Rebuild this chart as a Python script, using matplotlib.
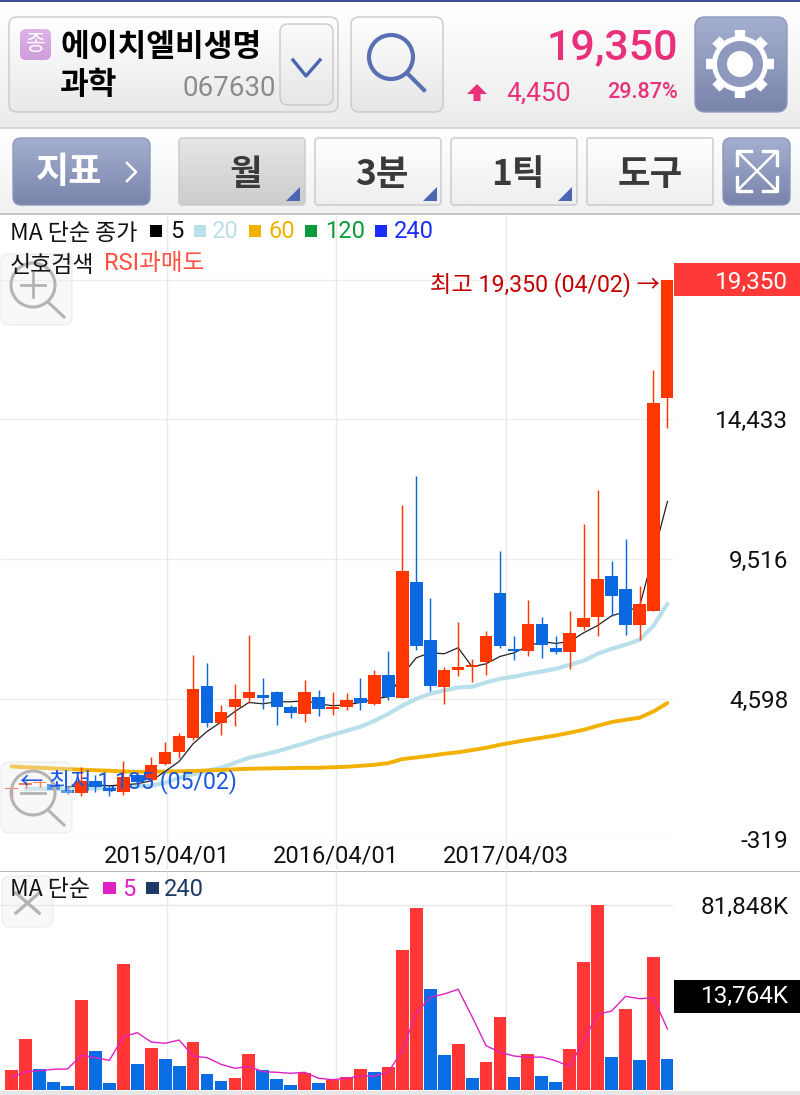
"""
Monthly candle chart screen for 에이치엘비생명과학 (067630) with price MAs and a volume pane.
"""

import numpy as np
import matplotlib
matplotlib.use("Agg")
import matplotlib.pyplot as plt
from matplotlib.patches import FancyBboxPatch, Rectangle, Circle, Polygon
from matplotlib.colors import LinearSegmentedColormap

plt.rcParams['font.family'] = ['Roboto', 'Noto Sans CJK KR', 'DejaVu Sans']

# ---- price pane data (won, monthly bars)
opens = [1410, 1580, 1630, 1607, 1396, 1290, 1713, 1466, 1326, 1924, 1748, 2311, 2733, 3201, 5056, 3729,
         4317, 4633, 4714, 4845, 4317, 4070, 4669, 4246, 4292, 4609, 4422, 5418, 4633, 8691, 6674, 4996,
         5619, 5700, 5876, 8328, 6358, 6287, 7237, 6368, 6252, 7132, 7484, 8927, 8444, 7202, 7695, 15166]
closes = [1450, 1620, 1660, 1396, 1266, 1713, 1477, 1361, 1853, 1677, 2276, 2733, 3296, 4950, 3754, 4116,
          4598, 4820, 4623, 4317, 4106, 4820, 4246, 4317, 4552, 4447, 5443, 4669, 9103, 6463, 5056, 5619,
          5724, 5770, 6815, 6467, 6263, 7237, 6474, 6227, 6921, 7424, 8821, 8223, 7202, 7941, 15014, 19350]
highs = [1642, 1713, 1720, 1677, 1512, 2205, 1924, 1572, 2416, 1994, 2557, 3085, 3402, 6147, 5865, 4387,
         5126, 6850, 5337, 4880, 4387, 5267, 4915, 4845, 4809, 5337, 5619, 6287, 11425, 12421, 8152, 5700,
         7283, 6006, 6991, 9806, 6815, 8082, 7484, 6791, 7699, 10756, 11953, 9454, 10229, 8550, 16151, 19350]
lows = [1150, 1466, 1510, 1361, 1255, 1185, 1326, 1185, 1220, 1607, 1677, 2276, 2522, 3155, 3613, 3331,
        3648, 4457, 4246, 3683, 3930, 3789, 4000, 4035, 4211, 4211, 4362, 4563, 4609, 6298, 4880, 4422,
        5408, 5172, 5443, 6393, 5971, 6111, 6016, 6182, 5654, 7002, 6815, 7494, 6826, 6674, 7695, 14110]

ma5_start = 4
ma5 = [1501, 1537, 1572, 1537, 1572, 1607, 1713, 2040, 2392, 3015, 3447, 3778, 4151, 4468, 4422, 4493,
       4493, 4528, 4422, 4352, 4387, 4468, 4598, 4669, 5443, 6041, 6217, 6182, 6393, 5724, 5830, 6087,
       6217, 6439, 6615, 6544, 6615, 6921, 7178, 7519, 7660, 7846, 9666, 11541]
ma20_start = 1
ma20 = [1431, 1431, 1431, 1431, 1431, 1449, 1466, 1502, 1519, 1537, 1642, 1818, 1941, 2065, 2170, 2346,
        2522, 2628, 2744, 2891, 3032, 3191, 3331, 3472, 3613, 3824, 4070, 4352, 4598, 4774, 4890, 4996,
        5020, 5172, 5302, 5372, 5478, 5559, 5654, 5795, 5935, 6182, 6358, 6498, 6674, 7167, 7941]
ma60 = [2216, 2188, 2170, 2145, 2124, 2100, 2082, 2065, 2040, 2029, 2029, 2040, 2047, 2054, 2075, 2089,
        2117, 2135, 2145, 2152, 2159, 2170, 2170, 2188, 2205, 2240, 2276, 2335, 2476, 2533, 2592, 2663,
        2716, 2793, 2874, 2979, 3067, 3155, 3226, 3307, 3402, 3507, 3648, 3778, 3859, 3930, 4151, 4447]

price_ticks = [19350, 14433, 9516, 4598, -319]
price_tick_labels = ["19,350", "14,433", "9,516", "4,598", "-319"]
date_ticks = [11.13, 23.25, 35.45]
date_labels = ["2015/04/01", "2016/04/01", "2017/04/03"]

# ---- volume pane data (thousand shares)
volume = [8848, 22430, 9290, 3672, 1770, 39683, 17121, 3230, 55742, 11502, 18581, 13714, 10618, 21235,
          6946, 3849, 5309, 15794, 8848, 4734, 2212, 7521, 3097, 4557, 5618, 9158, 7963, 10308, 61803,
          80384, 44550, 15484, 20350, 5176, 12520, 32162, 5884, 16059, 6326, 3406, 18271, 56494, 81848,
          14466, 35834, 13272, 58706, 13764]
vol_up = [1, 1, 0, 0, 0, 1, 0, 0, 1, 0, 1, 0, 0, 1, 0, 0, 1, 1, 0, 0, 0, 1, 0, 1,
          1, 1, 0, 1, 1, 1, 0, 0, 1, 0, 1, 1, 0, 1, 0, 0, 1, 1, 1, 0, 1, 0, 1, 0]
vol_ma5 = [5618, 8096, 8538, 9158, 9290, 15351, 14290, 13139, 23580, 25350, 21235, 20660, 22120, 15042,
           14290, 11370, 9600, 10485, 8096, 7830, 7388, 7830, 5176, 4557, 5176, 6194, 6194, 7830, 17696,
           33932, 41010, 42470, 44550, 32428, 19598, 16678, 15042, 14466, 14600, 12962, 10308, 22120,
           33490, 34950, 41453, 40391, 40834, 26986]

W, H = 800, 1095
CANDLE_RED = "#ff3600"
CANDLE_BLUE = "#0a69e0"
VOL_RED = "#ff3636"
VOL_BLUE = "#0a6de4"
KOR = ['Noto Sans CJK KR', 'Roboto', 'DejaVu Sans']


def px_axes(left, top, right, bottom):
    return fig.add_axes([left / W, 1 - bottom / H, (right - left) / W, (bottom - top) / H])


def grad_box(ax, x0, y0, x1, y1, top, bottom, edge="#c9c9c9", r=8, lw=1.0, z=2):
    # rounded button with a vertical gradient
    box = FancyBboxPatch((x0 + r, y0 + r), x1 - x0 - 2 * r, y1 - y0 - 2 * r,
                         boxstyle=f"round,pad={r},rounding_size={r}",
                         fc="none", ec=edge, lw=lw, zorder=z + 0.1)
    ax.add_patch(box)
    cmap = LinearSegmentedColormap.from_list("g", [top, bottom])
    im = ax.imshow(np.linspace(0, 1, 64)[:, None], cmap=cmap, extent=(x0, x1, y1, y0),
                   aspect="auto", zorder=z, interpolation="bilinear")
    im.set_clip_path(box)


def triangle(ax, x1, y1):
    ax.add_patch(Polygon([(x1, y1), (x1, y1 - 14), (x1 - 14, y1)], fc="#4a66b0", ec="none", zorder=4))


def magnifier(ax, x, y, sign):
    gray = "#b4b4b4"
    ax.add_patch(FancyBboxPatch((8, y - 24), 57, 57, boxstyle="round,pad=7,rounding_size=8",
                                fc="#eeeeee", ec="#d8d8d8", lw=1, alpha=0.38, zorder=3))
    ax.add_patch(Circle((x, y), 22, fc="none", ec=gray, lw=2.2, zorder=3.2))
    ax.plot([x + 15, x + 31], [y + 17, y + 32], color=gray, lw=2.2, zorder=3.2)
    ax.plot([x - 12, x + 12], [y, y], color=gray, lw=2, zorder=3.2)
    if sign == "+":
        ax.plot([x, x], [y - 12, y + 12], color=gray, lw=2, zorder=3.2)


fig = plt.figure(figsize=(W / 100, H / 100), dpi=100, facecolor="white")

# ---- background layer: header, toolbar, price flags
bg = px_axes(0, 0, W, H)
bg.set_axis_off()
bg.set_autoscale_on(False)
bg.set_xlim(0, W)
bg.set_ylim(H, 0)
for (t, b, c0, c1) in [(3, 127, "#ffffff", "#ececec"), (129, 213, "#ffffff", "#f1f1f1")]:
    bg.imshow(np.linspace(0, 1, 64)[:, None], extent=(0, W, b, t), aspect="auto",
              cmap=LinearSegmentedColormap.from_list("h", [c0, c1]), zorder=0)
bg.add_patch(Rectangle((0, 0), W, 2, fc="#3f5190", ec="none", zorder=1))
bg.add_patch(Rectangle((0, 127), W, 1.5, fc="#d6d6d6", ec="none", zorder=1))
bg.add_patch(Rectangle((0, 213), W, 1.5, fc="#c4c4c4", ec="none", zorder=1))
bg.add_patch(Rectangle((0, 870.5), W, 1.5, fc="#b8b8b8", ec="none", zorder=1))
bg.add_patch(Rectangle((0, 1090.5), W, 5, fc="#e6e6e6", ec="none", zorder=1))
bg.add_patch(Rectangle((674, 262.5), 126, 33, fc="#ff3838", ec="none", zorder=1))
bg.add_patch(Rectangle((674, 980), 126, 33, fc="black", ec="none", zorder=1))

# name box
grad_box(bg, 9, 17, 338, 112, "#ffffff", "#e9e9e9")
grad_box(bg, 20, 29, 51, 60, "#dcb4e6", "#cf9cdc", edge="none", r=6)
bg.text(35.5, 44, "종", color="white", fontsize=15.5, ha="center", va="center", family=KOR, zorder=5)
bg.text(60, 47, "에이치엘비생명", fontsize=22.5, weight="bold", va="center", family=KOR, zorder=5)
bg.text(60, 85, "과학", fontsize=22.5, weight="bold", va="center", family=KOR, zorder=5)
bg.text(276, 88, "067630", fontsize=20, color="#8c8c8c", ha="right", va="center", zorder=5)
grad_box(bg, 280, 24, 333, 105, "#fafafa", "#e7e7e7")
bg.plot([293, 306, 320], [60, 76, 60], color="#4a66b0", lw=2.4, zorder=5)

# search button
grad_box(bg, 351, 17, 443, 112, "#ffffff", "#e6e6e6")
bg.add_patch(Circle((391, 57), 22, fc="none", ec="#5a70b4", lw=3, zorder=5))
bg.plot([407, 424], [73, 90], color="#5a70b4", lw=3, zorder=5)

# price header
PINK = "#e8317a"
bg.text(678, 48, "19,350", fontsize=31, color=PINK, ha="right", va="center", weight="medium", zorder=5)
bg.add_patch(Polygon([(477, 84), (487, 94), (480.5, 94), (480.5, 101), (473.5, 101), (473.5, 94), (467, 94)],
                     fc=PINK, ec="none", zorder=5))
bg.text(571, 93, "4,450", fontsize=19, color=PINK, ha="right", va="center", zorder=5)
bg.text(678, 93, "29.87%", fontsize=15.5, color=PINK, ha="right", va="center", weight="medium", zorder=5)

# gear button
grad_box(bg, 695, 17, 787, 112, "#a4afd0", "#7a84ab", edge="#8e98bc", r=10)
gx, gy = 740, 64
for a in np.arange(0, 360, 45):
    r = np.deg2rad(a)
    bg.plot([gx, gx + 34 * np.cos(r)], [gy, gy + 34 * np.sin(r)], color="white", lw=7.5,
            solid_capstyle="butt", zorder=5)
bg.add_patch(Circle((gx, gy), 28, fc="white", ec="none", zorder=5.1))
bg.add_patch(Circle((gx, gy), 23, fc="#8f99bd", ec="none", zorder=5.2))
bg.add_patch(Circle((gx, gy), 13, fc="white", ec="none", zorder=5.3))

# toolbar
grad_box(bg, 13, 138, 150, 205, "#a4afd0", "#7a84ab", edge="#8e98bc", r=8)
bg.text(69, 173, "지표", fontsize=26, color="white", weight="bold", ha="center", va="center", family=KOR, zorder=5)
bg.plot([127, 136, 127], [163, 172, 181], color="white", lw=1.8, zorder=5)
grad_box(bg, 179, 138, 305, 205, "#e6e6e6", "#cccccc", r=3)
grad_box(bg, 315, 138, 441, 205, "#ffffff", "#eeeeee", r=3)
grad_box(bg, 451, 138, 577, 205, "#ffffff", "#eeeeee", r=3)
grad_box(bg, 587, 138, 713, 205, "#ffffff", "#eeeeee", r=2)
for x1 in (300, 437, 572):
    triangle(bg, x1, 201)
for cx, lab in [(246, "월"), (382, "3분"), (518, "1틱"), (650, "도구")]:
    bg.text(cx, 175, lab, fontsize=25.5, color="#3a3a3a", weight="bold", ha="center", va="center", family=KOR, zorder=5)

# expand button
grad_box(bg, 723, 138, 790, 205, "#a4afd0", "#7a84ab", edge="#8e98bc", r=8)
bg.plot([738, 776], [152, 190], color="white", lw=1.8, zorder=5)
bg.plot([776, 738], [152, 190], color="white", lw=1.8, zorder=5)
for px_, py_, dx, dy in [(737, 151, 1, 1), (777, 151, -1, 1), (737, 191, 1, -1), (777, 191, -1, -1)]:
    bg.plot([px_ + 14 * dx, px_, px_], [py_, py_, py_ + 14 * dy], color="white", lw=2.4, zorder=5)

# ---- price pane
x = np.arange(len(closes))
xlims = (-0.839, 47.4)
ax = px_axes(0, 214, 673, 838.5)
ax.patch.set_alpha(0)
ax.set_xlim(*xlims)
ax.set_ylim(-319, 21658)
for sp in ax.spines.values():
    sp.set_visible(False)

ax.hlines(price_ticks, xlims[0], xlims[1], color="#eeeeee", lw=1, zorder=1)
ax.vlines(date_ticks, -1400, 21658, color="#e9e9e9", lw=1, zorder=1, clip_on=False)

ax.plot(x[ma20_start:], ma20, color="#b9e0ea", lw=3, zorder=2, solid_capstyle="round")
ax.plot(x, ma60, color="#f2b000", lw=2.8, zorder=2, solid_capstyle="round")
ax.plot(x[ma5_start:], ma5, color="#222222", lw=0.9, zorder=2.1)

colors = [CANDLE_RED if c >= o else CANDLE_BLUE for o, c in zip(opens, closes)]
ax.vlines(x, lows, highs, color=colors, lw=1.05, zorder=3)
bottoms = np.minimum(opens, closes)
heights = np.abs(np.array(closes) - np.array(opens))
ax.bar(x, heights, bottom=bottoms, width=0.9, color=colors, linewidth=0, zorder=3.1)

ax.set_xticks(date_ticks, date_labels, fontsize=17, color="#111111")
ax.tick_params(axis="x", length=0, pad=4)
ax.yaxis.tick_right()
ax.set_yticks(price_ticks, price_tick_labels, fontsize=17.5, color="#111111")
ax.tick_params(axis="y", length=0, pad=83)
for t in ax.get_yticklabels():
    t.set_ha("right")
ax.get_yticklabels()[0].set_color("white")

# ---- volume pane
vax = px_axes(0, 871, 673, 1090)
vax.patch.set_alpha(0)
vax.set_xlim(*xlims)
vax.set_ylim(0, 96886)
for sp in vax.spines.values():
    sp.set_visible(False)
vax.hlines(81848, xlims[0], xlims[1], color="#e6e6e6", lw=1, zorder=1)
vax.vlines(date_ticks, 0, 96886, color="#e9e9e9", lw=1, zorder=1)
vax.bar(x, volume, width=0.92, color=[VOL_RED if u else VOL_BLUE for u in vol_up], linewidth=0, zorder=2)
vax.plot(x, vol_ma5, color="#e020c0", lw=1.0, zorder=3)
vax.set_xticks([])
vax.yaxis.tick_right()
vax.set_yticks([81848], ["81,848K"], fontsize=17.5, color="#111111")
vax.tick_params(axis="y", length=0, pad=83)
for t in vax.get_yticklabels():
    t.set_ha("right")

# ---- top layer: zoom buttons and text sitting over the chart
top = px_axes(0, 0, W, H)
top.set_axis_off()
top.patch.set_alpha(0)
top.set_xlim(0, W)
top.set_ylim(H, 0)
magnifier(top, 33, 285, "+")
magnifier(top, 33, 793, "-")
top.add_patch(FancyBboxPatch((8, 882), 39, 39, boxstyle="round,pad=6,rounding_size=8",
                             fc="#eeeeee", ec="#d8d8d8", lw=1, alpha=0.38, zorder=3))
top.plot([16, 39], [893, 913], color="#b4b4b4", lw=2.4, zorder=3.2)
top.plot([39, 16], [893, 913], color="#b4b4b4", lw=2.4, zorder=3.2)

FS = 16.5
NUM = 17
top.text(789, 996.5, "13,764K", fontsize=17.5, color="white", ha="right", va="center", zorder=5)
top.text(10, 233, "MA 단순 종가", fontsize=FS, va="center", color="#111111", family=KOR, zorder=5)
legend_items = [(150, 170, "5", "#000000", "#111111"), (194, 212, "20", "#b9e0ea", "#b9e0ea"),
                (249, 268, "60", "#f2b000", "#f2b000"), (305, 325, "120", "#0a9c3a", "#0a9c3a"),
                (375, 394, "240", "#1a2cff", "#1a2cff")]
for sq, tx, lab, c_sq, c_tx in legend_items:
    top.add_patch(Rectangle((sq, 225), 12, 12, fc=c_sq, ec="none", zorder=5))
    top.text(tx, 231.5, lab, fontsize=NUM, color=c_tx, va="center", zorder=5)
top.text(10, 265, "신호검색", fontsize=FS, va="center", color="#111111", family=KOR, zorder=5)
top.text(104, 264, "RSI과매도", fontsize=NUM, va="center", color="#ff5040", zorder=5)
top.text(660, 285, "최고 19,350 (04/02) →", fontsize=16.7, va="center", ha="right", color="#c40000", zorder=5)
top.text(20, 782, "← 최저 1,135 (05/02)", fontsize=16.7, va="center", color="#1a58e0", zorder=5)
top.text(10, 890, "MA 단순", fontsize=FS, va="center", color="#111111", family=KOR, zorder=5)
top.add_patch(Rectangle((103, 882), 12.5, 12, fc="#e020c0", ec="none", zorder=5))
top.text(122, 889, "5", fontsize=NUM, color="#e020c0", va="center", zorder=5)
top.add_patch(Rectangle((146, 882), 12.5, 12, fc="#1a3a68", ec="none", zorder=5))
top.text(164, 889, "240", fontsize=NUM, color="#1a3a68", va="center", zorder=5)

fig.savefig("out.png", dpi=100, facecolor="white")
plt.close(fig)
print("Saved: out.png")
